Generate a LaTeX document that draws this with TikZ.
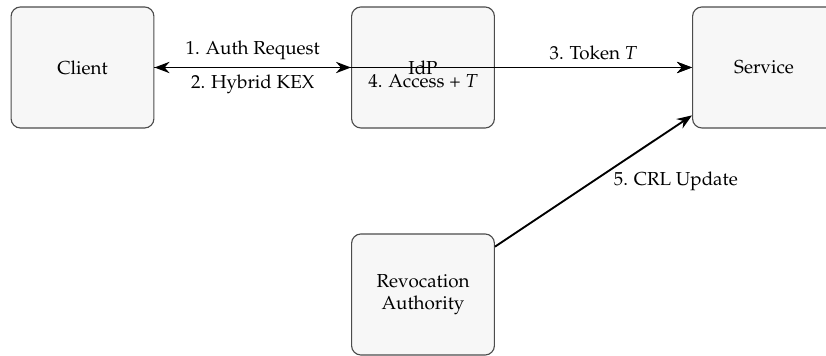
\documentclass[tikz,border=0pt]{standalone}
\usepackage[T1]{fontenc}
\usepackage{mathpazo}
\usetikzlibrary{arrows.meta}
\begin{document}
\begin{tikzpicture}[x=0.532pt,y=-0.532pt,
  entity/.style={draw=black!70, line width=0.6pt, fill=black!3, rounded corners=5pt,
    minimum width=76pt, minimum height=64.4pt, inner sep=0pt, align=center, font=\normalsize},
  flow/.style={line width=1pt, -{Stealth[length=8pt,width=6pt]}},
  lbl/.style={font=\normalsize}]
\useasboundingbox (0,0) rectangle (826,356);
\node[entity] (client) at (82.5,67.5) {Client};
\node[entity] (idp) at (423,67.5) {IdP};
\node[entity] (service) at (764,67.5) {Service};
\node[entity] (ra) at (423,294.5) {Revocation\\Authority};
\draw[flow] (client) -- node[lbl, above] {1. Auth Request} (idp);
\draw[flow] (idp) -- node[lbl, below] {2. Hybrid KEX} (client);
\draw[flow] (idp) -- node[lbl, above] {3. Token $T$} (service);
\draw[flow] (client.east) -- node[lbl, below] {4. Access + $T$} (service.west);
\draw[flow] (ra) -- node[lbl, pos=0.5, anchor=west, xshift=7pt] {5. CRL Update} (service);
\end{tikzpicture}
\end{document}
